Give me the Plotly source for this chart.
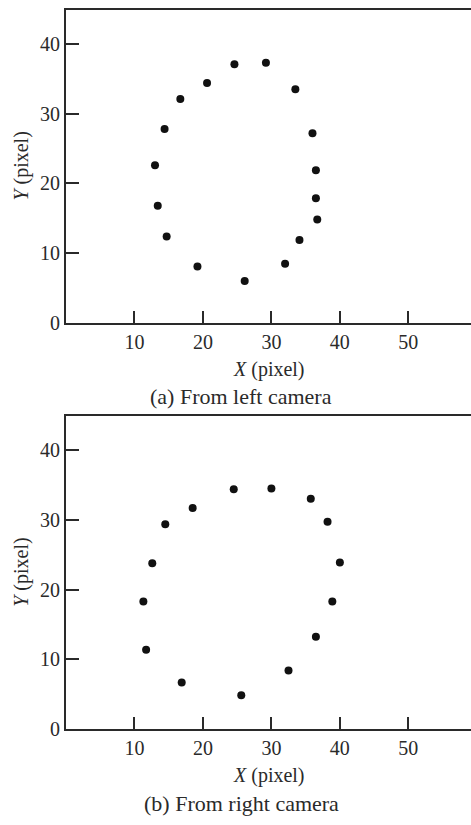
import plotly.graph_objects as go

# Left camera points
left_x = [13.0, 14.4, 16.7, 20.6, 24.6, 29.2, 33.5, 36.0, 36.5, 36.5, 36.7, 34.1, 32.0, 26.1, 19.2, 14.7, 13.4]
left_y = [22.6, 27.8, 32.1, 34.4, 37.1, 37.3, 33.5, 27.2, 21.9, 17.9, 14.85, 11.9, 8.5, 6.0, 8.1, 12.4, 16.8]

# Right camera points
right_x = [11.3, 12.6, 14.5, 18.5, 24.5, 30.0, 35.75, 38.2, 40.0, 38.9, 36.5, 32.5, 25.6, 16.9, 11.7]
right_y = [18.3, 23.8, 29.4, 31.7, 34.4, 34.5, 33.05, 29.75, 23.9, 18.3, 13.25, 8.4, 4.85, 6.7, 11.4]

x_ticks = [10, 20, 30, 40, 50]
y_ticks = [0, 10, 20, 30, 40]
captions = ["(a) From left camera", "(b) From right camera"]
x_title = "<i>X</i> (pixel)"
y_title = "<i>Y</i> (pixel)"

W, H = 471, 825
L = 65.8
fig = go.Figure()

FONT = "Liberation Serif, Times New Roman, serif"
INK = "#2a2a2a"

# pixel geometry of the two panels (top, bottom of plot area)
panels = [(10.0, 327.3), (421.7, 739.0)]
doms = [[1 - b / H, 1 - t / H] for t, b in panels]

fig.add_trace(go.Scatter(x=left_x, y=left_y, mode="markers",
                         marker=dict(size=8, color="#111111"),
                         xaxis="x", yaxis="y", showlegend=False))
fig.add_trace(go.Scatter(x=right_x, y=right_y, mode="markers",
                         marker=dict(size=8, color="#111111"),
                         xaxis="x2", yaxis="y2", showlegend=False))

xr = [0, (W - L) / 6.85]
yr = [0, 44.9]

def xaxis(anchor):
    return dict(domain=[0, 1], range=xr, anchor=anchor,
                tickmode="array", tickvals=x_ticks,
                ticks="inside", ticklen=12, tickwidth=1.5, tickcolor=INK,
                showline=True, linecolor=INK, linewidth=2, mirror=True,
                showgrid=False, zeroline=False,
                tickfont=dict(family=FONT, size=20, color=INK))

def yaxis(anchor, dom):
    return dict(domain=dom, range=yr, anchor=anchor,
                tickmode="array", tickvals=y_ticks,
                ticks="inside", ticklen=13, tickwidth=1.5, tickcolor=INK,
                showline=True, linecolor=INK, linewidth=2, mirror=False,
                showgrid=False, zeroline=False,
                tickfont=dict(family=FONT, size=20, color=INK))

fig.update_layout(
    width=W, height=H,
    margin=dict(l=L, r=0, t=0, b=0),
    paper_bgcolor="white", plot_bgcolor="white",
    xaxis=xaxis("y"), yaxis=yaxis("x", doms[0]),
    xaxis2=xaxis("y2"), yaxis2=yaxis("x2", doms[1]),
    showlegend=False,
)

def px_x(p):
    return (p - L) / (W - L)

def px_y(p):
    return 1 - p / H

for (t, b), cap in zip(panels, captions):
    # x title
    fig.add_annotation(text=x_title, x=px_x((L + W) / 2), y=px_y(b + 47),
                       xref="paper", yref="paper", showarrow=False,
                       xanchor="center", yanchor="middle",
                       font=dict(family=FONT, size=20, color=INK))
    # y title
    fig.add_annotation(text=y_title, x=px_x(21), y=px_y((t + b) / 2),
                       xref="paper", yref="paper", showarrow=False, textangle=-90,
                       xanchor="center", yanchor="middle",
                       font=dict(family=FONT, size=20, color=INK))
    # caption
    fig.add_annotation(text=cap, x=px_x(241), y=px_y(b + 75),
                       xref="paper", yref="paper", showarrow=False,
                       xanchor="center", yanchor="middle",
                       font=dict(family=FONT, size=22, color=INK))

fig.write_html("out.html", config={"displayModeBar": False},
               post_script="document.body.style.margin='0';document.body.style.overflow='hidden';")
